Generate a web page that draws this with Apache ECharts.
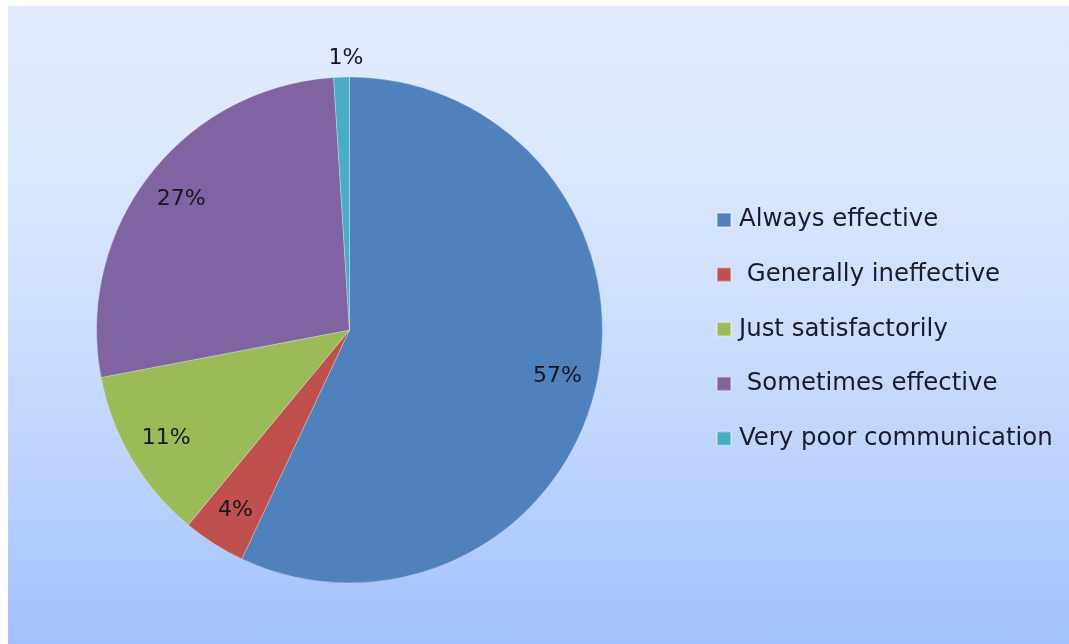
<!DOCTYPE html>
<html>
<head>
<meta charset="utf-8">
<script src="https://cdn.jsdelivr.net/npm/echarts@6/dist/echarts.min.js"></script>
<style>
html,body{margin:0;padding:0;background:#ffffff;}
#chart{position:absolute;left:8px;top:6px;width:1061px;height:638px;
background:linear-gradient(to bottom,#e3eafd 0%,#dde9fe 20%,#cddefd 50%,#bfd4fd 70%,#b0cbfd 85%,#a2c0fb 100%);}
</style>
</head>
<body>
<div id="chart"></div>
<script>
const categories = ["Always effective", " Generally ineffective", "Just satisfactorily", " Sometimes effective", "Very poor communication"];
const values = [57, 4, 11, 27, 1];
const colors = ["#4f81bd", "#c0504d", "#9bbb59", "#8064a2", "#4bacc6"];

const chart = echarts.init(document.getElementById('chart'), null, {renderer: 'canvas'});
const center = [341.5, 324];
const R = 253;
const pieData = categories.map((c, i) => ({name: c, value: values[i], itemStyle: {color: colors[i]}}));
const labelData = categories.map((c, i) => {
  const d = {name: c, value: values[i]};
  if (values[i] <= 2) {
    d.label = {position: 'outside', distance: 8};
    d.labelLine = {show: false, length: 6, length2: 0};
  }
  return d;
});

chart.setOption({
  animation: false,
  backgroundColor: 'transparent',
  legend: {
    orient: 'vertical',
    left: 708,
    top: 201,
    padding: 0,
    itemWidth: 14,
    itemHeight: 14,
    itemGap: 28.6,
    icon: 'rect',
    data: categories,
    textStyle: {fontFamily: 'DejaVu Sans', fontSize: 24.4, color: '#1a1a2a', lineHeight: 26, padding: [0, 0, 0, 3]}
  },
  series: [
    {
      type: 'pie',
      center: center,
      radius: [0, R],
      startAngle: 90,
      clockwise: true,
      silent: true,
      label: {show: false},
      labelLine: {show: false},
      itemStyle: {borderWidth: 0.8, borderColor: 'rgba(255,255,255,0.35)'},
      data: pieData
    },
    {
      type: 'pie',
      center: center,
      radius: [R * 0.66, R],
      startAngle: 90,
      clockwise: true,
      silent: true,
      itemStyle: {color: 'rgba(0,0,0,0)'},
      label: {show: true, position: 'inside', formatter: '{c}%', fontFamily: 'DejaVu Sans', fontSize: 22, color: '#151520'},
      labelLine: {show: false},
      legendHoverLink: false,
      labelLayout: function (p) {
        return p.dataIndex === 4 ? {dx: 27, dy: -13} : {};
      },
      data: labelData
    }
  ]
});
</script>
</body>
</html>
